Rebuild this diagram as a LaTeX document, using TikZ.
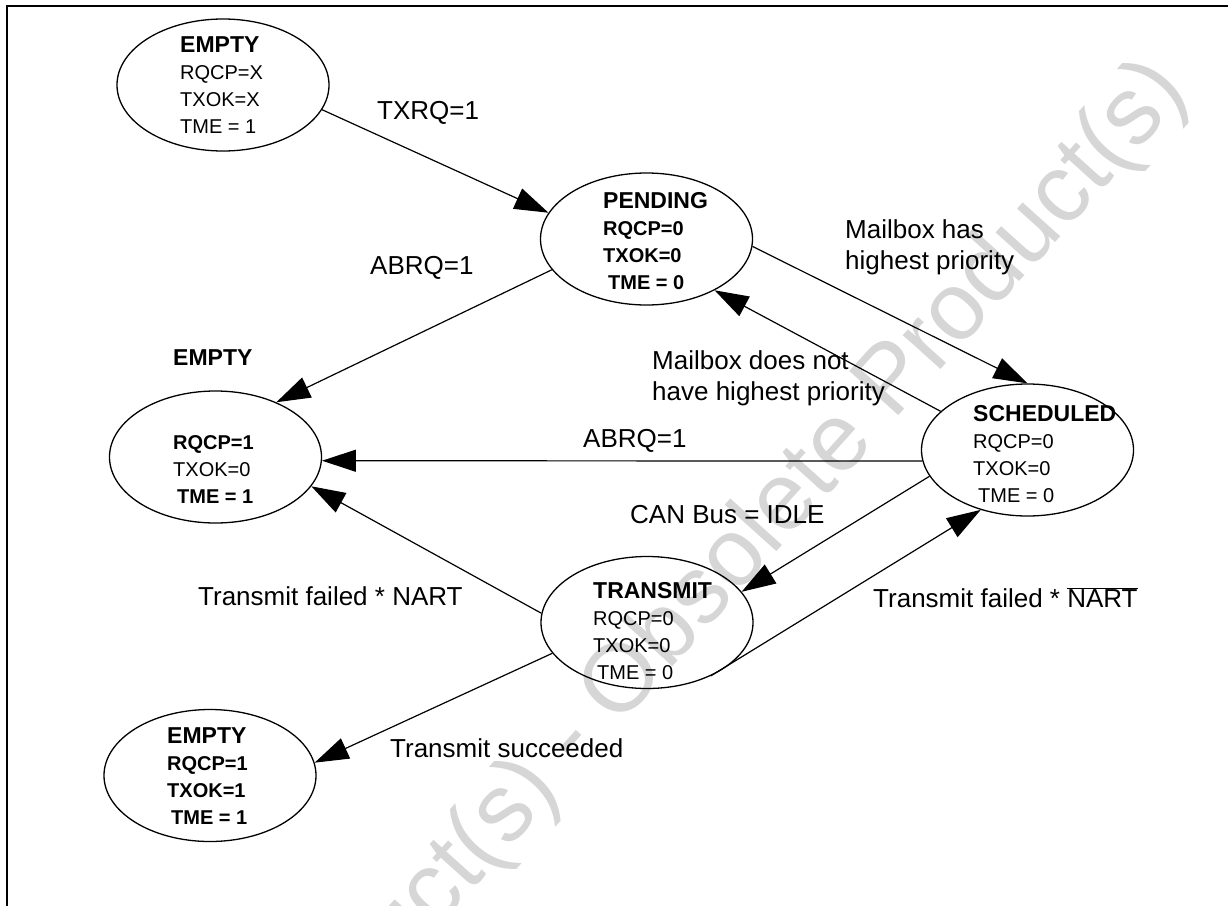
\documentclass[tikz,border=0pt]{standalone}
\usepackage{fontspec}
\setmainfont{Liberation Sans}
\usetikzlibrary{shapes.geometric,arrows.meta}
\newcommand\stheadfont{\fontsize{23}{27}\selectfont\bfseries}
\newcommand\stvalfont{\fontsize{20}{27}\selectfont}
\newcommand\edgefont{\fontsize{26}{31}\selectfont}
\begin{document}
\begin{tikzpicture}[x=1pt,y=-1pt,
  state/.style={ellipse, draw, line width=1.3pt, minimum width=212pt, minimum height=132pt, inner sep=0pt},
  stxt/.style={anchor=west, align=left, inner sep=0pt, font=\stvalfont},
  arr/.style={-{Triangle[length=34pt,width=22pt]}, line width=1.2pt},
  lbl/.style={anchor=west, align=left, inner sep=0pt, font=\edgefont},
  wm/.style={font=\fontsize{96}{100}\selectfont, text=black!16, rotate=48, inner sep=0pt},
  frame/.style={line width=2.4pt}]
\useasboundingbox (0,0) rectangle (1228,905);
\clip (0,0) rectangle (1228,905);
\node[wm] (wmark) at (572,742) {Obsolete Product(s) - Obsolete Product(s)};
\draw[frame] (7,920) -- (7,6) -- (1240,6);

% states
\node[state] (e1) at (223,85) {};
\node[state] (pend) at (646.5,239) {};
\node[state] (e2) at (215.5,457) {};
\node[state] (sched) at (1027.5,450) {};
\node[state] (trans) at (647,622.5) {};
\node[state] (e3) at (210,775.5) {};

\node[stxt] (e1t) at (180,85.5) {{\stheadfont EMPTY}\\RQCP=X\\TXOK=X\\TME = 1};
\node[stxt, font=\stvalfont\bfseries] (pendt) at (603,241.5) {{\stheadfont PENDING}\\RQCP=0\\TXOK=0\\\hspace*{5pt}TME = 0};
\node[anchor=west, inner sep=0pt, font=\stheadfont] (e2lbl) at (173,358) {EMPTY};
\node[stxt] (e2t) at (173,470) {{\bfseries RQCP=1}\\TXOK=0\\{\bfseries\hspace*{4pt}TME = 1}};
\node[stxt] (schedt) at (973,454) {{\stheadfont SCHEDULED}\\RQCP=0\\TXOK=0\\\hspace*{5pt}TME = 0};
\node[stxt] (transt) at (593,631) {{\stheadfont TRANSMIT}\\RQCP=0\\TXOK=0\\\hspace*{4pt}TME = 0};
\node[stxt, font=\stvalfont\bfseries] (e3t) at (167,776.5) {{\stheadfont EMPTY}\\RQCP=1\\TXOK=1\\\hspace*{4pt}TME = 1};

% connectors
\draw[arr] (e1.-14) -- (pend.165);
\draw[arr] (pend.198) -- (e2.42);
\draw[arr] (pend.-4) -- (sched.90);
\draw[arr] (sched.156) -- (pend.-37);
\draw[arr] (sched.186) -- (e2.-2);
\draw[arr] (sched.195) -- (trans.18);
\draw[arr] (trans.175) -- (e2.-17);
\draw[arr] (trans.-40) -- (sched.232);
\draw[arr] (trans.198) -- (e3.7);

% labels
\node[lbl] (l1) at (377,113) {TXRQ=1};
\node[lbl] (l2) at (370,268) {ABRQ=1};
\node[lbl] (l3) at (845,247.5) {Mailbox has\\highest priority};
\node[lbl] (l4) at (652,378.5) {Mailbox does not\\have highest priority};
\node[lbl] (l5) at (583,441) {ABRQ=1};
\node[lbl] (l6) at (630,515) {CAN Bus = IDLE};
\node[lbl] (l7) at (198,596) {Transmit failed * NART};
\node[lbl] (l8) at (873,598) {Transmit failed * $\overline{\mbox{NART}}$};
\node[lbl] (l9) at (390,748) {Transmit succeeded};
\end{tikzpicture}
\end{document}
